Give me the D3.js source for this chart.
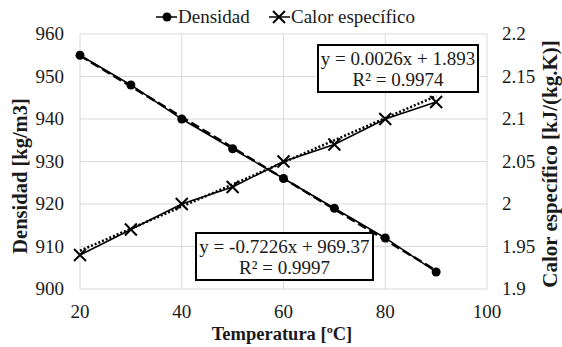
<!DOCTYPE html>
<html>
<head>
<meta charset="utf-8">
<script src="https://cdnjs.cloudflare.com/ajax/libs/d3/7.8.5/d3.min.js"></script>
<style>
body { margin: 0; background: #fff; }
</style>
</head>
<body>
<svg width="562" height="347"></svg>
<script>
var temperatura = [20, 30, 40, 50, 60, 70, 80, 90];
var densidad = [955, 948, 940, 933, 926, 919, 912, 904];
var calor = [1.94, 1.97, 2.00, 2.02, 2.05, 2.07, 2.10, 2.12];
var xTicks = [20, 40, 60, 80, 100];
var yLeftTicks = [900, 910, 920, 930, 940, 950, 960];
var yRightTicks = [1.9, 1.95, 2, 2.05, 2.1, 2.15, 2.2];
// trendlines (from the picture)
var trendDens = {m: -0.7226, b: 969.37, label: ["y = -0.7226x + 969.37", "R² = 0.9997"]};
var trendCalor = {m: 0.0026, b: 1.893, label: ["y = 0.0026x + 1.893", "R² = 0.9974"]};

var FONT = "'Liberation Serif', 'DejaVu Serif', serif";

var svg = d3.select("svg")
	.style("font-family", FONT);

var x = d3.scaleLinear().domain([20, 100]).range([80, 487]);
var yL = d3.scaleLinear().domain([900, 960]).range([289, 34]);
var yR = d3.scaleLinear().domain([1.9, 2.2]).range([289, 34]);

// grid
svg.append("g").selectAll("line").data(yLeftTicks).enter().append("line")
	.attr("x1", 80).attr("x2", 487)
	.attr("y1", function(d){ return yL(d); }).attr("y2", function(d){ return yL(d); })
	.attr("stroke", "#d9d9d9").attr("stroke-width", 1);
svg.append("g").selectAll("line").data(xTicks).enter().append("line")
	.attr("x1", function(d){ return x(d); }).attr("x2", function(d){ return x(d); })
	.attr("y1", 34).attr("y2", 289)
	.attr("stroke", "#d9d9d9").attr("stroke-width", 1);

function txt(sel){
	return sel.style("font-family", FONT).attr("fill", "#1a1a1a");
}

// tick labels
txt(svg.append("g").selectAll("text").data(yLeftTicks).enter().append("text"))
	.attr("x", 64).attr("y", function(d){ return yL(d) + 6; })
	.attr("text-anchor", "end").attr("font-size", 19)
	.text(function(d){ return d; });
txt(svg.append("g").selectAll("text").data(yRightTicks).enter().append("text"))
	.attr("x", 502).attr("y", function(d){ return yR(d) + 6; })
	.attr("text-anchor", "start").attr("font-size", 19)
	.text(function(d){ return d; });
txt(svg.append("g").selectAll("text").data(xTicks).enter().append("text"))
	.attr("x", function(d){ return x(d); }).attr("y", 318)
	.attr("text-anchor", "middle").attr("font-size", 19)
	.text(function(d){ return d; });

// axis titles
txt(svg.append("text")).attr("x", 282).attr("y", 340).attr("text-anchor", "middle")
	.attr("font-size", 18.5).attr("font-weight", "bold").text("Temperatura [ºC]");
txt(svg.append("text")).attr("transform", "translate(27,176) rotate(-90)").attr("text-anchor", "middle")
	.attr("font-size", 20.5).attr("font-weight", "bold").text("Densidad [kg/m3]");
txt(svg.append("text")).attr("transform", "translate(557,164) rotate(-90)").attr("text-anchor", "middle")
	.attr("font-size", 21).attr("font-weight", "bold").text("Calor específico [kJ/(kg.K)]");

// trendlines
var tx = [temperatura[0], temperatura[temperatura.length - 1]];
svg.append("line")
	.attr("x1", x(tx[0])).attr("y1", yL(trendDens.m * tx[0] + trendDens.b))
	.attr("x2", x(tx[1])).attr("y2", yL(trendDens.m * tx[1] + trendDens.b))
	.attr("stroke", "#000").attr("stroke-width", 2.5).attr("stroke-dasharray", "9,4");
svg.append("line")
	.attr("x1", x(tx[0])).attr("y1", yR(trendCalor.m * tx[0] + trendCalor.b))
	.attr("x2", x(tx[1])).attr("y2", yR(trendCalor.m * tx[1] + trendCalor.b))
	.attr("stroke", "#000").attr("stroke-width", 2.5).attr("stroke-dasharray", "2,2");

// series lines
var lineD = d3.line().x(function(d, i){ return x(temperatura[i]); }).y(function(d){ return yL(d); });
var lineC = d3.line().x(function(d, i){ return x(temperatura[i]); }).y(function(d){ return yR(d); });
svg.append("path").attr("d", lineD(densidad)).attr("fill", "none").attr("stroke", "#000").attr("stroke-width", 1.5);
svg.append("path").attr("d", lineC(calor)).attr("fill", "none").attr("stroke", "#000").attr("stroke-width", 1.5);

// markers
svg.append("g").selectAll("circle").data(densidad).enter().append("circle")
	.attr("cx", function(d, i){ return x(temperatura[i]); })
	.attr("cy", function(d){ return yL(d); })
	.attr("r", 4.5).attr("fill", "#000");
var cross = d3.symbol().type(d3.symbolX).size(95);
svg.append("g").selectAll("path").data(calor).enter().append("path")
	.attr("transform", function(d, i){ return "translate(" + x(temperatura[i]) + "," + yR(d) + ")"; })
	.attr("d", cross).attr("fill", "none").attr("stroke", "#000").attr("stroke-width", 2);

// equation boxes
function eqBox(left, top, w, h, lines){
	svg.append("rect").attr("x", left).attr("y", top).attr("width", w).attr("height", h)
		.attr("fill", "#fff").attr("stroke", "#000").attr("stroke-width", 2);
	txt(svg.append("g").selectAll("text").data(lines).enter().append("text"))
		.attr("x", left + w / 2).attr("y", function(d, i){ return top + 20 + i * 20.5; })
		.attr("text-anchor", "middle").attr("font-size", 19)
		.text(function(d){ return d; });
}
eqBox(318, 45, 160, 47, trendCalor.label);
eqBox(196, 233, 177, 47, trendDens.label);

// legend
var lg = svg.append("g");
lg.append("line").attr("x1", 156).attr("x2", 177).attr("y1", 17).attr("y2", 17).attr("stroke", "#000").attr("stroke-width", 1.5);
lg.append("circle").attr("cx", 167).attr("cy", 17).attr("r", 4.5).attr("fill", "#000");
txt(lg.append("text")).attr("x", 178).attr("y", 23).attr("font-size", 19).text("Densidad");
lg.append("line").attr("x1", 269).attr("x2", 290).attr("y1", 17).attr("y2", 17).attr("stroke", "#000").attr("stroke-width", 1.5);
lg.append("path").attr("transform", "translate(279,17)").attr("d", cross).attr("fill", "none").attr("stroke", "#000").attr("stroke-width", 2);
txt(lg.append("text")).attr("x", 291).attr("y", 23).attr("font-size", 19).text("Calor específico");
</script>
</body>
</html>
